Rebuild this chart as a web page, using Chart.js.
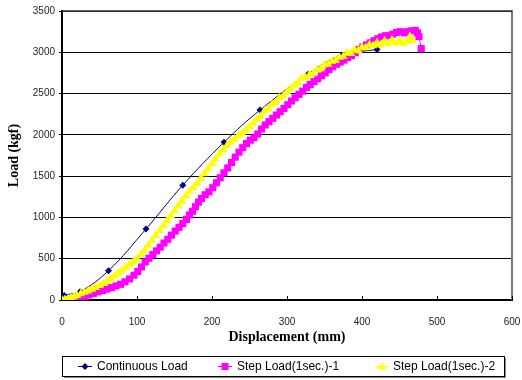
<!DOCTYPE html>
<html><head><meta charset="utf-8">
<script src="https://cdn.jsdelivr.net/npm/chart.js@4/dist/chart.umd.min.js"></script>
<style>html,body{margin:0;padding:0;background:#fff}#wrap{width:522px;height:380px}</style>
</head><body><div id="wrap"><canvas id="c" width="522" height="380"></canvas></div>
<script>
const seriesNames = ["Continuous Load", "Step Load(1sec.)-1", "Step Load(1sec.)-2"];
const xTicks = [0, 100, 200, 300, 400, 500, 600];
const yTicks = [0, 500, 1000, 1500, 2000, 2500, 3000, 3500];

const contX = [0, 3, 24, 62, 112, 161, 216, 264, 328, 372, 420];
const contY = [0, 55, 100, 355, 860, 1390, 1910, 2300, 2735, 2962, 3035];

const step1X = [0,6,12,18,24,30,36,42,48,54,60,66,72,78,84,90,96,101,106,111,116,121,126,131,136,141,146,151,156,161,166,170,174,178,182,186,191,196,201,206,211,216,221,226,231,236,241,246,251,256,261,266,271,276,281,286,291,296,301,306,311,316,321,326,331,336,341,346,351,356,361,366,371,376,381,386,391,396,401,406,411,416,421,426,431,436,441,446,451,456,461,466,471,474,476,479];
const step1Y = [0,0,5,15,30,45,60,80,98,115,132,150,170,190,220,255,300,345,400,460,505,550,595,640,690,735,785,835,880,925,975,1030,1075,1130,1185,1230,1275,1310,1360,1420,1480,1540,1600,1665,1730,1790,1845,1895,1935,1965,2010,2070,2120,2160,2200,2240,2280,2320,2365,2410,2450,2490,2530,2575,2610,2645,2680,2715,2750,2790,2825,2855,2880,2905,2935,2960,2995,3035,3065,3090,3115,3140,3165,3185,3200,3200,3220,3240,3250,3235,3250,3260,3265,3235,3190,3045];

const step2X = [0,4,8,12,16,20,25,30,35,40,45,50,55,60,65,70,75,80,85,90,95,100,105,110,115,120,125,130,135,140,145,150,155,160,165,170,175,180,185,190,195,200,205,210,215,220,225,230,235,240,245,250,255,260,265,270,275,280,285,290,295,300,305,310,315,320,325,330,335,340,345,350,355,360,365,370,375,380,385,390,395,400,405,410,415,420,425,430,435,440,445,450,455,460,464,468];
const step2Y = [0,5,15,25,40,55,75,95,110,130,150,175,200,225,255,290,325,360,395,430,460,500,550,600,660,720,780,840,900,960,1020,1080,1140,1200,1260,1310,1360,1410,1470,1530,1590,1650,1710,1770,1820,1870,1915,1950,1990,2020,2060,2100,2140,2190,2225,2290,2310,2370,2390,2450,2470,2520,2560,2600,2630,2690,2690,2730,2740,2790,2800,2850,2855,2890,2900,2940,2950,2990,2985,3030,3020,3060,3055,3090,3080,3120,3090,3140,3110,3150,3115,3140,3110,3130,3190,3140];

const colors = ["#000080", "#FF00FF", "#FFFF00"];
const styles = ["rectRot", "rect", "triangle"];

function pts(xs, ys) { return xs.map((x, i) => ({x: x, y: ys[i]})); }

function drawMarker(ctx, style, color, x, y) {
  ctx.save();
  ctx.fillStyle = color;
  ctx.beginPath();
  if (style === "rectRot") {
    ctx.moveTo(x, y - 3.5); ctx.lineTo(x + 3.5, y); ctx.lineTo(x, y + 3.5); ctx.lineTo(x - 3.5, y); ctx.closePath();
  } else if (style === "rect") {
    ctx.rect(x - 3.5, y - 3.5, 7, 7);
  } else {
    ctx.moveTo(x, y - 4); ctx.lineTo(x + 4.2, y + 3); ctx.lineTo(x - 4.2, y + 3); ctx.closePath();
  }
  ctx.fill();
  ctx.restore();
}

const framePlugin = {
  id: "frame",
  beforeDatasetsDraw(chart) {
    const {ctx, chartArea: a, scales: {x}} = chart;
    ctx.save();
    ctx.strokeStyle = "#777";
    ctx.lineWidth = 2;
    ctx.beginPath(); ctx.moveTo(a.right, a.top - 1); ctx.lineTo(a.right, a.bottom); ctx.stroke();
    ctx.strokeStyle = "#333";
    ctx.lineWidth = 1.5;
    ctx.beginPath(); ctx.moveTo(a.left, a.top); ctx.lineTo(a.right, a.top); ctx.stroke();
    ctx.strokeStyle = "#000";
    ctx.lineWidth = 1;
    xTicks.forEach(v => {
      const px = Math.round(x.getPixelForValue(v)) + 0.5;
      ctx.beginPath(); ctx.moveTo(px, a.bottom); ctx.lineTo(px, a.bottom - 4); ctx.stroke();
    });
    ctx.restore();
  },
  afterDraw(chart) {
    const {ctx} = chart;
    const L = 62, T = 356, W = 442, H = 20;
    ctx.save();
    ctx.fillStyle = "#888";
    ctx.fillRect(L + 2, T + 2, W, H);
    ctx.fillStyle = "#fff";
    ctx.fillRect(L, T, W, H);
    ctx.strokeStyle = "#000";
    ctx.lineWidth = 1;
    ctx.strokeRect(L + 0.5, T + 0.5, W, H);
    const offs = [[16, 35], [156, 175], [313, 331]];
    const cy = T + 10.5;
    ctx.font = "12px 'Liberation Sans', Arial, sans-serif";
    ctx.textBaseline = "middle";
    seriesNames.forEach((n, i) => {
      const x0 = L + offs[i][0];
      ctx.strokeStyle = colors[i];
      ctx.lineWidth = 1;
      ctx.beginPath(); ctx.moveTo(x0, cy); ctx.lineTo(x0 + 14, cy); ctx.stroke();
      drawMarker(ctx, styles[i], colors[i], x0 + 7, cy);
      ctx.fillStyle = "#000";
      ctx.fillText(n, L + offs[i][1], cy + 0.5);
    });
    ctx.restore();
  }
};

new Chart(document.getElementById("c"), {
  type: "line",
  data: {
    datasets: [
      {label: seriesNames[0], data: pts(contX, contY), borderColor: colors[0], backgroundColor: colors[0],
       borderWidth: 1, pointStyle: "rectRot", pointRadius: 3.5, pointBorderWidth: 0, tension: 0.4, order: 3},
      {label: seriesNames[1], data: pts(step1X, step1Y), borderColor: colors[1], backgroundColor: colors[1],
       borderWidth: 1, pointStyle: "rect", pointRadius: 5, pointBorderWidth: 0, tension: 0, order: 2},
      {label: seriesNames[2], data: pts(step2X, step2Y), borderColor: colors[2], backgroundColor: colors[2],
       borderWidth: 1, pointStyle: "triangle", pointRadius: 5, pointBorderWidth: 0, tension: 0, order: 1}
    ]
  },
  options: {
    responsive: false,
    animation: false,
    events: [],
    layout: {padding: {left: 0, right: 10, top: 11, bottom: 34}},
    plugins: {legend: {display: false}, tooltip: {enabled: false}},
    scales: {
      x: {
        type: "linear", min: 0, max: 600,
        afterBuildTicks: s => { s.ticks = xTicks.map(v => ({value: v})); },
        afterFit: s => { s.height = 46; s.paddingRight = 0; s.paddingLeft = 0; },
        grid: {display: false},
        border: {display: true, color: "#000", width: 2},
        ticks: {color: "#222", padding: 8, callback: v => String(v), font: {family: "'Liberation Sans', Arial, sans-serif", size: 10}},
        title: {display: true, text: "Displacement (mm)", color: "#000", padding: {top: 0, bottom: 0},
                font: {family: "'Liberation Serif', 'Times New Roman', serif", size: 14, weight: "bold"}}
      },
      y: {
        type: "linear", min: 0, max: 3500,
        afterBuildTicks: s => { s.ticks = yTicks.map(v => ({value: v})); },
        afterFit: s => { s.width = 62; s.paddingTop = 0; s.paddingBottom = 0; },
        grid: {color: "#000", lineWidth: 1, tickLength: 3, drawTicks: true},
        border: {display: true, color: "#000", width: 2},
        ticks: {color: "#222", padding: 4, callback: v => String(v), font: {family: "'Liberation Sans', Arial, sans-serif", size: 10}},
        title: {display: true, text: "Load (kgf)", color: "#000", padding: {top: 6, bottom: 0},
                font: {family: "'Liberation Serif', 'Times New Roman', serif", size: 14, weight: "bold"}}
      }
    }
  },
  plugins: [framePlugin]
});
</script>
</body></html>
